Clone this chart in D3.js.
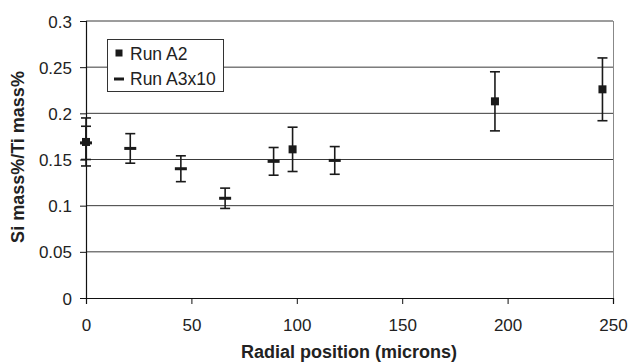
<!DOCTYPE html>
<html><head><meta charset="utf-8">
<script src="https://cdn.jsdelivr.net/npm/d3@7"></script>
<style>body{margin:0;background:#fff}svg{display:block}text{font-family:"Liberation Sans",Arial,sans-serif;fill:#222}</style>
</head><body><svg id="c" width="629" height="364"></svg>
<script>
const xTicks = [0, 50, 100, 150, 200, 250];
const yTicks = [0, 0.05, 0.1, 0.15, 0.2, 0.25, 0.3];
const a2X = [0, 98, 194, 245];
const a2Y = [0.169, 0.161, 0.213, 0.226];
const a2Err = [0.026, 0.024, 0.032, 0.034];
const a3X = [0, 21, 45, 66, 89, 118];
const a3Y = [0.168, 0.162, 0.140, 0.108, 0.148, 0.149];
const a3Err = [0.018, 0.016, 0.014, 0.011, 0.015, 0.015];
const seriesNames = ["Run A2", "Run A3x10"];

const svg = d3.select("#c");
const L = 86, R = 613, T = 21, B = 298;
const x = d3.scaleLinear().domain([0, 250]).range([L, R]);
const y = d3.scaleLinear().domain([0, 0.3]).range([B, T]);

// gridlines
svg.append("g").selectAll("line").data(yTicks.filter(d => d > 0)).join("line")
  .attr("x1", L).attr("x2", R).attr("y1", d => y(d)).attr("y2", d => y(d))
  .attr("stroke", "#3a3a3a").attr("stroke-width", 1);
// right border
svg.append("line").attr("x1", R + 0.5).attr("x2", R + 0.5).attr("y1", T).attr("y2", B)
  .attr("stroke", "#888").attr("stroke-width", 1);

// axes
const xAxis = svg.append("g").attr("transform", `translate(0,${B})`)
  .call(d3.axisBottom(x).tickValues(xTicks).tickSize(6).tickPadding(6).tickFormat(d3.format("d")));
const yAxis = svg.append("g").attr("transform", `translate(${L},0)`)
  .call(d3.axisLeft(y).tickValues(yTicks).tickSize(6).tickPadding(8).tickFormat(d => d === 0 ? "0" : String(+d.toFixed(2))));
[xAxis, yAxis].forEach(g => {
  g.select(".domain").attr("stroke", "#111").attr("stroke-width", 1.2);
  g.selectAll(".tick line").attr("stroke", "#111");
  g.selectAll("text").attr("font-size", 17).attr("fill", "#222")
   .attr("font-family", '"Liberation Sans",Arial,sans-serif');
});
xAxis.selectAll("text").attr("y", 33).attr("dy", 0);
yAxis.selectAll("text").attr("dy", "0.36em");

// error bars
function errBars(xs, ys, es) {
  const g = svg.append("g").attr("stroke", "#1a1a1a").attr("stroke-width", 1.6);
  xs.forEach((xv, i) => {
    const cx = x(xv), lo = y(ys[i] - es[i]), hi = y(ys[i] + es[i]);
    g.append("line").attr("x1", cx).attr("x2", cx).attr("y1", lo).attr("y2", hi);
    g.append("line").attr("x1", cx - 5).attr("x2", cx + 5).attr("y1", lo).attr("y2", lo);
    g.append("line").attr("x1", cx - 5).attr("x2", cx + 5).attr("y1", hi).attr("y2", hi);
  });
}
errBars(a2X, a2Y, a2Err);
errBars(a3X, a3Y, a3Err);

// A3 markers (dash)
svg.append("g").selectAll("rect").data(a3X).join("rect")
  .attr("x", d => x(d) - 6).attr("y", (d, i) => y(a3Y[i]) - 1.5)
  .attr("width", 12).attr("height", 3).attr("fill", "#1a1a1a");
// A2 markers (square)
svg.append("g").selectAll("rect").data(a2X).join("rect")
  .attr("x", d => x(d) - 4).attr("y", (d, i) => y(a2Y[i]) - 4)
  .attr("width", 8).attr("height", 8).attr("fill", "#1a1a1a");

// legend
const lg = svg.append("g");
lg.append("rect").attr("x", 107.5).attr("y", 39.5).attr("width", 116).attr("height", 52)
  .attr("fill", "#fff").attr("stroke", "#333").attr("stroke-width", 1);
lg.append("rect").attr("x", 115.5).attr("y", 49.5).attr("width", 7).attr("height", 7).attr("fill", "#1a1a1a");
lg.append("rect").attr("x", 114).attr("y", 77.5).attr("width", 10).attr("height", 3).attr("fill", "#1a1a1a");
lg.append("text").attr("x", 130).attr("y", 59.5).attr("font-size", 17.5).text(seriesNames[0]);
lg.append("text").attr("x", 130).attr("y", 85).attr("font-size", 17.5).text(seriesNames[1]);

// titles
svg.append("text").attr("x", 349).attr("y", 357.5).attr("text-anchor", "middle")
  .attr("font-size", 18).attr("font-weight", "bold").text("Radial position (microns)");
svg.append("text").attr("transform", `translate(24,157) rotate(-90)`)
  .attr("text-anchor", "middle").attr("font-size", 18).attr("font-weight", "bold")
  .text("Si mass%/Ti mass%");
</script></body></html>
